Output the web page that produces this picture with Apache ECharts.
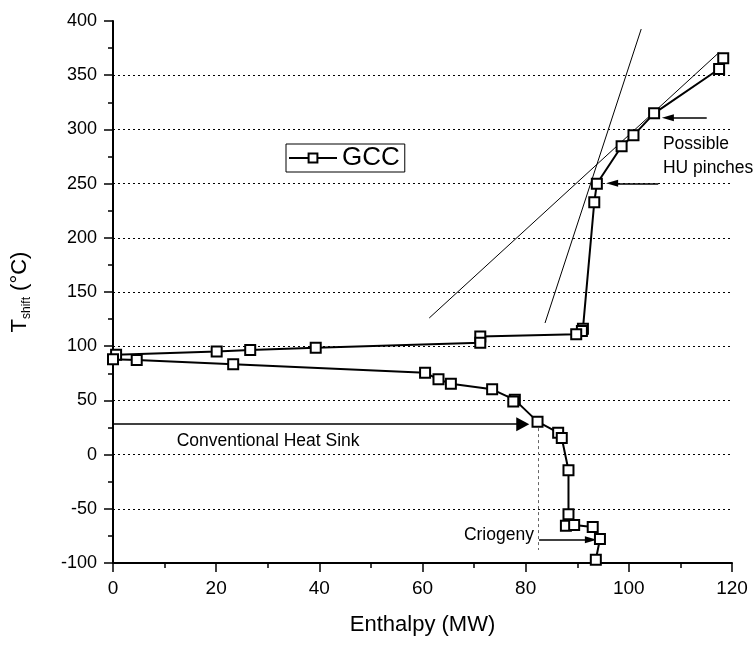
<!DOCTYPE html>
<html><head><meta charset="utf-8">
<script src="https://cdn.jsdelivr.net/npm/echarts@6/dist/echarts.min.js"></script>
<style>html,body{margin:0;padding:0;background:#fff}#c{width:755px;height:648px}</style>
</head><body><div id="c"></div>
<script>
// ---- data ----
const xTicks = [0, 20, 40, 60, 80, 100, 120];
const yTicks = [-100, -50, 0, 50, 100, 150, 200, 250, 300, 350, 400];
const gccEnthalpy = [118.3, 117.5, 104.9, 100.9, 98.6, 93.8, 93.3, 91.1, 90.9, 89.8, 71.2, 71.2, 39.3, 26.6, 20.1, 0.6, 0.0, 4.6, 23.3, 60.5, 63.1, 65.5, 73.5, 77.9, 77.6, 82.3, 86.3, 87.0, 88.3, 88.3, 87.8, 89.4, 93.0, 94.4, 93.6];
const gccTshift   = [365.6, 355.7, 314.8, 294.5, 284.4, 249.9, 232.8, 116, 114, 111, 109, 103.2, 98.6, 96.5, 95, 92, 88, 87.3, 83.3, 75.6, 69.4, 65.4, 60.2, 50.5, 49, 30.4, 20.2, 15.3, -14.5, -55.1, -65.6, -65, -66.8, -77.9, -97];
const tangentA_H = [61.3, 117.5];
const tangentA_T = [126, 371];
const tangentB_H = [83.75, 102.4];
const tangentB_T = [121.4, 392.6];
const heatSinkArrowH = [0, 80.7];   const heatSinkArrowT = [28, 28];
const crioArrowH = [82.6, 93.8];    const crioArrowT = [-78.5, -78.5];
const pinchArrow1H = [115.1, 106.4]; const pinchArrow1T = [310.8, 310.8];
const pinchArrow2H = [105.7, 95.6];  const pinchArrow2T = [250.3, 250.3];
const sinkLimitH = [82.5, 82.5];    const sinkLimitT = [30, -88];

const FONT = "'Liberation Sans', Arial, sans-serif";
const chart = echarts.init(document.getElementById('c'), null, {renderer: 'canvas'});

const grid = {left: 113, right: 23, top: 21, bottom: 85};
const pxPerH = (755 - grid.left - grid.right) / 120;

function arrow(hs, ts, head) {
  const dir = Math.sign(hs[1] - hs[0]);
  const endH = hs[1] - dir * (head[1] / 2) / pxPerH;
  return [
    {coord: [hs[0], ts[0]], symbol: 'none'},
    {coord: [endH, ts[1]], symbol: 'triangle', symbolSize: head}
  ];
}

const option = {
  animation: false,
  backgroundColor: '#fff',
  grid: grid,
  legend: {
    left: 286, top: 144,
    padding: [1, 5, 1, 2],
    borderColor: '#000', borderWidth: 1,
    itemWidth: 48, itemHeight: 11,
    textStyle: {fontFamily: FONT, fontSize: 26, color: '#000'},
    data: ['GCC']
  },
  xAxis: {
    type: 'value', min: xTicks[0], max: xTicks[xTicks.length - 1], interval: 20,
    name: 'Enthalpy (MW)', nameLocation: 'middle', nameGap: 51,
    nameTextStyle: {fontFamily: FONT, fontSize: 22, color: '#000'},
    axisLine: {onZero: false, lineStyle: {color: '#000', width: 2}},
    axisTick: {show: true, length: 9, lineStyle: {color: '#000', width: 1.5}},
    minorTick: {show: true, splitNumber: 2, length: 5, lineStyle: {color: '#000', width: 1.5}},
    axisLabel: {fontFamily: FONT, fontSize: 19, color: '#000', margin: 16},
    splitLine: {show: false}
  },
  yAxis: {
    type: 'value', min: yTicks[0], max: yTicks[yTicks.length - 1], interval: 50,
    name: '{t|T}{s|shift}{t| (°C)}', nameLocation: 'middle', nameGap: 80,
    nameTextStyle: {
      fontFamily: FONT, color: '#000',
      rich: {
        t: {fontFamily: FONT, fontSize: 22, color: '#000', lineHeight: 26, verticalAlign: 'middle'},
        s: {fontFamily: FONT, fontSize: 12, color: '#000', lineHeight: 26, verticalAlign: 'bottom', padding: [10, 0, 0, 0]}
      }
    },
    axisLine: {onZero: false, lineStyle: {color: '#000', width: 2}},
    axisTick: {show: true, length: 9, lineStyle: {color: '#000', width: 1.5}},
    minorTick: {show: true, splitNumber: 2, length: 5, lineStyle: {color: '#000', width: 1.5}},
    axisLabel: {fontFamily: FONT, fontSize: 18, color: '#000', margin: 16},
    splitLine: {show: true, showMinLine: false, showMaxLine: false,
      lineStyle: {color: '#000', width: 1, type: [2, 3]}}
  },
  series: [
    {
      name: 'tangentA', type: 'line', data: tangentA_H.map((h, i) => [h, tangentA_T[i]]),
      symbol: 'none', lineStyle: {color: '#000', width: 1}, silent: true, z: 2
    },
    {
      name: 'tangentB', type: 'line', data: tangentB_H.map((h, i) => [h, tangentB_T[i]]),
      symbol: 'none', lineStyle: {color: '#000', width: 1}, silent: true, z: 2
    },
    {
      name: 'annot', type: 'line', data: [], silent: true, z: 3,
      markLine: {
        silent: true, animation: false,
        label: {show: false},
        lineStyle: {color: '#000', width: 1.5, type: 'solid'},
        data: [
          arrow(heatSinkArrowH, heatSinkArrowT, [14, 13]),
          arrow(crioArrowH, crioArrowT, [7, 12]),
          arrow(pinchArrow1H, pinchArrow1T, [7, 12]),
          arrow(pinchArrow2H, pinchArrow2T, [7, 12]),
          [
            {coord: [sinkLimitH[0], sinkLimitT[0]], symbol: 'none', lineStyle: {color: '#666', width: 1, type: [3, 3]}},
            {coord: [sinkLimitH[1], sinkLimitT[1]], symbol: 'none'}
          ]
        ]
      }
    },
    {
      name: 'GCC', type: 'line', data: gccEnthalpy.map((h, i) => [h, gccTshift[i]]),
      symbol: 'rect', symbolSize: 10, clip: false, z: 5,
      lineStyle: {color: '#000', width: 2},
      itemStyle: {color: '#fff', borderColor: '#000', borderWidth: 2}
    }
  ]
};
chart.setOption(option);

function px(h, t) { return chart.convertToPixel({gridIndex: 0}, [h, t]); }
const txt = {fontFamily: FONT, fontSize: 17.5, fill: '#000'};
const p1 = px(12.35, 12.5), p2 = px(81.6, -74.2), p3 = px(106.6, 286), p4 = px(106.6, 264.4);
chart.setOption({
  graphic: [
    {type: 'text', x: p1[0], y: p1[1], style: Object.assign({text: 'Conventional Heat Sink', align: 'left', verticalAlign: 'middle'}, txt)},
    {type: 'text', x: p2[0], y: p2[1], style: Object.assign({text: 'Criogeny', align: 'right', verticalAlign: 'middle'}, txt)},
    {type: 'text', x: p3[0], y: p3[1], style: Object.assign({text: 'Possible', align: 'left', verticalAlign: 'middle'}, txt)},
    {type: 'text', x: p4[0], y: p4[1], style: Object.assign({text: 'HU pinches', align: 'left', verticalAlign: 'middle'}, txt)}
  ]
});
</script></body></html>
